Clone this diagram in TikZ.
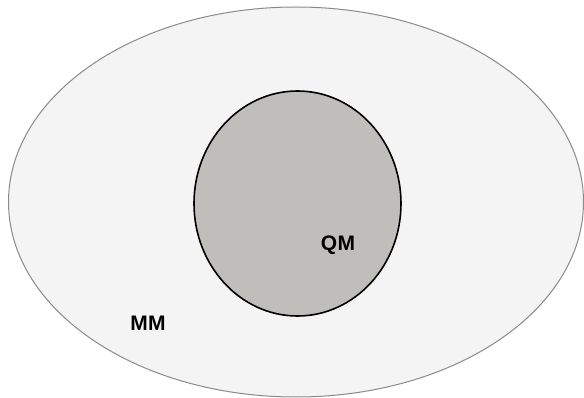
\documentclass[tikz,border=0pt]{standalone}
\usepackage{fontspec}
\setmainfont{Liberation Sans}
\usepackage{tikz}
\definecolor{outerfill}{HTML}{F4F4F4}
\definecolor{outerline}{HTML}{8A8A8A}
\definecolor{innerfill}{HTML}{BFBEBA}
\tikzset{
  setlabel/.style={font=\fontsize{21}{23}\selectfont\bfseries\addfontfeature{LetterSpace=2}, inner sep=0pt},
}

\begin{document}
\begin{tikzpicture}[x=1pt, y=-1pt]
  \useasboundingbox (0,0) rectangle (584,398);
  % outer set
  \draw[outerline, fill=outerfill, line width=1pt] (296,202) ellipse [x radius=287.5, y radius=195];
  % inner set
  \draw[black, fill=innerfill, line width=1.6pt] (297.5,203.5) ellipse [x radius=103.5, y radius=112.5];
  \node[setlabel] (qm) at (338,245) {QM};
  \node[setlabel] (mm) at (148,323) {MM};
\end{tikzpicture}
\end{document}
